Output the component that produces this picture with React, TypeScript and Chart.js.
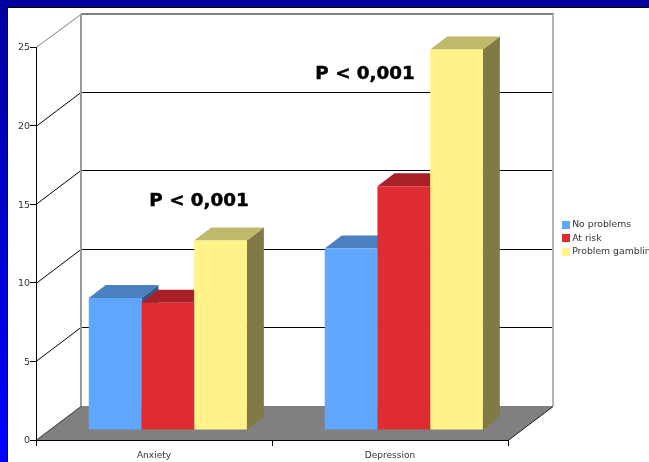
import React, { useEffect, useRef } from "react";
import { Chart, registerables } from "chart.js";

Chart.register(...registerables);

const categories = ["Anxiety", "Depression"];
const noProblems = [8.4, 11.55];
const atRisk = [8.1, 15.5];
const problemGambling = [12.05, 24.2];
const seriesNames = ["No problems", "At risk", "Problem gambling"];
const annotations = ["P < 0,001", "P < 0,001"];
const yTicks = [0, 5, 10, 15, 20, 25];

const FRONT = ["#60a6ff", "#de2c31", "#fff38a"];
const TOP = ["#4a7fc0", "#a92126", "#bfb96c"];
const SIDE = ["#345a8c", "#7a181b", "#807a45"];

const FONT = "'DejaVu Sans', Verdana, sans-serif";
const DX = 45, DY = 34;        // wall depth
const BX = 13.8, BY = 10;      // bar offset from the front plane
const SX = 17, SY = 13;        // bar depth

const poly = (ctx: CanvasRenderingContext2D, pts: number[][], fill: string) => {
  ctx.beginPath();
  pts.forEach(([x, y], i) => (i ? ctx.lineTo(x, y) : ctx.moveTo(x, y)));
  ctx.closePath();
  ctx.fillStyle = fill;
  ctx.fill();
};
const line = (ctx: CanvasRenderingContext2D, pts: number[][], color: string, w = 1) => {
  ctx.beginPath();
  pts.forEach(([x, y], i) => (i ? ctx.lineTo(x, y) : ctx.moveTo(x, y)));
  ctx.strokeStyle = color;
  ctx.lineWidth = w;
  ctx.stroke();
};

const swatch = (color: string) => {
  const c = document.createElement("canvas");
  c.width = 8;
  c.height = 8;
  const g = c.getContext("2d")!;
  g.fillStyle = color;
  g.fillRect(0, 0, 8, 8);
  return c;
};

const scene = {
  id: "scene",
  beforeLayout(chart: any) {
    const lg = chart.legend;
    if (lg && !lg.__wrapped) {
      const fit = lg.fit.bind(lg);
      lg.fit = () => { fit(); lg.width = 141; };
      lg.__wrapped = true;
    }
  },
  afterLayout(chart: any) {
    const lg = chart.legend;
    lg.left = 552.5; lg.right = 641; lg.width = 88.5;
    lg.top = 208.35; lg.bottom = 270; lg.height = 62;
  },
  beforeDraw(chart: any) {
    const { ctx, chartArea: a, scales: { y } } = chart;
    const b = y.getPixelForValue(0);
    ctx.save();
    ctx.fillStyle = "#fff";
    ctx.fillRect(0, 0, chart.width, chart.height);
    // floor
    poly(ctx, [[a.left, b], [a.left + DX, b - DY], [a.right + DX, b - DY], [a.right, b]], "#808080");
    // gridlines on side and back walls
    yTicks.forEach((v) => {
      const py = Math.round(y.getPixelForValue(v)) + 0.5;
      if (v > 0 && v < 25) {
        line(ctx, [[a.left, py], [a.left + DX, py - DY], [a.right + DX, py - DY]], "#000");
      } else if (v === 25) {
        line(ctx, [[a.left, py], [a.left + DX, py - DY + 1]], "#7f7f7f");
      } else {
        line(ctx, [[a.left, py], [a.left + DX, py - DY]], "#444");
        line(ctx, [[a.right, py], [a.right + DX, py - DY]], "#000");
      }
    });
    const t = Math.round(y.getPixelForValue(25)) - DY + 1;
    line(ctx, [[a.left + DX, t], [a.right + DX + 1, t]], "#808080", 2);
    line(ctx, [[a.left + DX, t], [a.left + DX, b - DY]], "#999", 2);
    line(ctx, [[a.right + DX, t], [a.right + DX, b - DY]], "#b4b4b4", 2);
    ctx.restore();
  },
  beforeDatasetsDraw(chart: any) {
    const { ctx, scales: { y } } = chart;
    const base = y.getPixelForValue(0);
    ctx.save();
    ctx.translate(BX, -BY);
    categories.forEach((_, j) => {
      seriesNames.forEach((_, i) => {
        const el = chart.getDatasetMeta(i).data[j];
        const l = el.x - el.width / 2, r = el.x + el.width / 2, t = el.y;
        poly(ctx, [[r, t], [r + SX, t - SY], [r + SX, base - SY], [r, base]], SIDE[i]);
        poly(ctx, [[l, t], [l + SX, t - SY], [r + SX, t - SY], [r, t]], TOP[i]);
      });
    });
    // front faces are drawn by the bar controller under this same offset
  },
  afterDatasetsDraw(chart: any) {
    const { ctx, scales: { x, y } } = chart;
    ctx.restore();
    ctx.save();
    ctx.fillStyle = "#000";
    ctx.strokeStyle = "#000";
    ctx.lineWidth = 0.5;
    ctx.font = `bold 18.3px ${FONT}`;
    ctx.textAlign = "center";
    ctx.textBaseline = "middle";
    const labels: [string, number, number][] = [
      [annotations[0], x.getPixelForValue(0) + 45, y.getPixelForValue(15) - 3],
      [annotations[1], x.getPixelForValue(1) - 25, y.getPixelForValue(23) - 4],
    ];
    labels.forEach(([s, px, py]) => {
      ctx.fillText(s, px, py);
      ctx.strokeText(s, px, py);
    });
    ctx.restore();
  },
};

export default function App() {
  const ref = useRef<HTMLCanvasElement>(null);
  useEffect(() => {
    const root = document.documentElement;
    root.style.background = "linear-gradient(#0000a0, #0000ff) no-repeat";
    root.style.backgroundSize = "649px 462px";
    document.body.style.background = "transparent";
    const chart = new Chart(ref.current!, {
      type: "bar",
      data: {
        labels: categories,
        datasets: [noProblems, atRisk, problemGambling].map((d, i) => ({
          label: seriesNames[i],
          data: d,
          backgroundColor: FRONT[i],
          borderWidth: 0,
          clip: false as any,
          categoryPercentage: 0.67,
          barPercentage: 1,
        })),
      },
      options: {
        responsive: false,
        animation: false,
        layout: { padding: { left: 0, top: 39, right: 0, bottom: 0 } },
        plugins: {
          tooltip: { enabled: false },
          title: { display: false },
          legend: {
            position: "right",
            align: "start",
            labels: {
              usePointStyle: true,
              pointStyleWidth: 3,
              boxHeight: 8,
              padding: 4,
              color: "#333",
              font: { family: FONT, size: 9.3 },
              generateLabels: (c: any) =>
                Chart.defaults.plugins.legend.labels.generateLabels(c).map((it: any, i: number) => ({
                  ...it,
                  pointStyle: swatch(FRONT[i]),
                })),
            },
          },
        },
        scales: {
          x: {
            offset: true,
            afterFit: (s: any) => { s.height = 22; },
            grid: { offset: true, drawOnChartArea: false, drawTicks: true, tickLength: 6, color: "#000" },
            border: { color: "#000", width: 1 },
            ticks: { color: "#333", font: { family: FONT, size: 9 }, padding: 4, maxRotation: 0 },
          },
          y: {
            min: 0,
            max: 25,
            afterFit: (s: any) => { s.width = 28; },
            grid: { drawOnChartArea: false, drawTicks: true, tickLength: 6, color: "#000" },
            border: { color: "#000", width: 1 },
            ticks: { stepSize: 5, color: "#333", font: { family: FONT, size: 9.5 }, padding: 0, labelOffset: 1 } as any,
          },
        },
      },
      plugins: [scene as any],
    });
    return () => chart.destroy();
  }, []);
  return (
    <div style={{ position: "fixed", left: 8, top: 8, width: 641, height: 454, boxShadow: "-1px -1px 0 #000" }}>
      <canvas ref={ref} width={641} height={454} style={{ display: "block" }} />
    </div>
  );
}
